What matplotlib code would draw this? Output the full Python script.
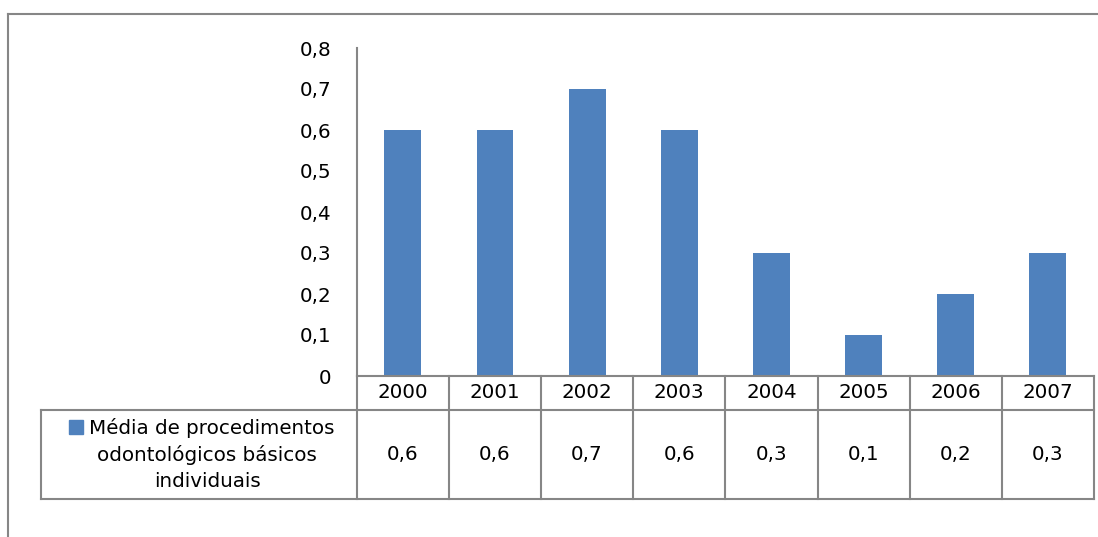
import matplotlib
matplotlib.use("Agg")
import matplotlib.pyplot as plt
from matplotlib.patches import Rectangle

# dados do gráfico
anos = ["2000", "2001", "2002", "2003", "2004", "2005", "2006", "2007"]
valores = [0.6, 0.6, 0.7, 0.6, 0.3, 0.1, 0.2, 0.3]
rotulos_y = ["0", "0,1", "0,2", "0,3", "0,4", "0,5", "0,6", "0,7", "0,8"]
serie = ["Média de procedimentos", "odontológicos básicos", "individuais"]

azul = "#4F81BD"
cinza = "#868686"
W, H = 1098, 537

plt.rcParams["font.family"] = ["DejaVu Sans"]
fs = 14.3

fig = plt.figure(figsize=(W / 100, H / 100), dpi=100)

# moldura externa (só topo e esquerda aparecem no recorte)
fig.add_artist(plt.Line2D([8 / W, 1], [1 - 14 / H, 1 - 14 / H], color=cinza, lw=1.5))
fig.add_artist(plt.Line2D([8 / W, 8 / W], [0, 1 - 14 / H], color=cinza, lw=1.5))

x0, x1 = 356.7, 1094
y_top, y_zero = 48, 376
ax = fig.add_axes([x0 / W, 1 - y_zero / H, (x1 - x0) / W, (y_zero - y_top) / H])

xs = list(range(len(anos)))
ax.bar(xs, valores, width=0.4, color=azul)
ax.set_xlim(-0.5, len(anos) - 0.5)
ax.set_ylim(0, 0.8)
ax.set_yticks([i / 10 for i in range(len(rotulos_y))])
ax.set_yticklabels(rotulos_y, fontsize=fs)
ax.tick_params(axis="y", length=0, pad=18)
ax.set_xticks([])
for s in ["top", "right", "bottom"]:
    ax.spines[s].set_visible(False)
ax.spines["left"].set_color(cinza)
ax.spines["left"].set_linewidth(1.5)

# tabela de dados abaixo do eixo
col_w = (x1 - x0) / len(anos)
h_ax = y_zero - y_top
def ya(py):
    # pixel y -> coordenada de eixo
    return (y_zero - py) / h_ax
def xd(px):
    return (px - x0) / col_w - 0.5

tr = ax.get_xaxis_transform()
y_ano, y_fim = 410, 499
x_leg = 41
linhas = [
    ([xd(x0), xd(x1)], [ya(y_zero), ya(y_zero)]),
    ([xd(x_leg), xd(x1)], [ya(y_ano), ya(y_ano)]),
    ([xd(x_leg), xd(x1)], [ya(y_fim), ya(y_fim)]),
    ([xd(x_leg), xd(x_leg)], [ya(y_ano), ya(y_fim)]),
]
for i in range(len(anos) + 1):
    linhas.append(([i - 0.5, i - 0.5], [ya(y_zero), ya(y_fim)]))
for lx, ly in linhas:
    ax.plot(lx, ly, transform=tr, color=cinza, lw=1.5, clip_on=False,
            solid_capstyle="projecting")

for i, (ano, v) in enumerate(zip(anos, valores)):
    ax.text(i, ya((y_zero + y_ano) / 2), ano, transform=tr, ha="center",
            va="center", fontsize=fs)
    ax.text(i, ya((y_ano + y_fim) / 2), f"{v:.1f}".replace(".", ","),
            transform=tr, ha="center", va="center", fontsize=fs)

# célula da legenda (texto centrado, quadrado à esquerda da 1a linha)
cx = 212
t1 = ax.text(xd(cx), ya(434), serie[0], transform=tr, ha="center", va="baseline", fontsize=fs)
ax.text(xd(207), ya(461), serie[1], transform=tr, ha="center", va="baseline", fontsize=fs)
ax.text(xd(207), ya(487), serie[2], transform=tr, ha="center", va="baseline", fontsize=fs)
fig.canvas.draw()
bb = t1.get_window_extent()
sq_r = bb.x0 - 6
ax.add_patch(Rectangle((xd(sq_r - 14), ya(434)), xd(sq_r) - xd(sq_r - 14), ya(420) - ya(434),
                       transform=tr, color=azul, clip_on=False))

fig.savefig("out.png", dpi=100)
